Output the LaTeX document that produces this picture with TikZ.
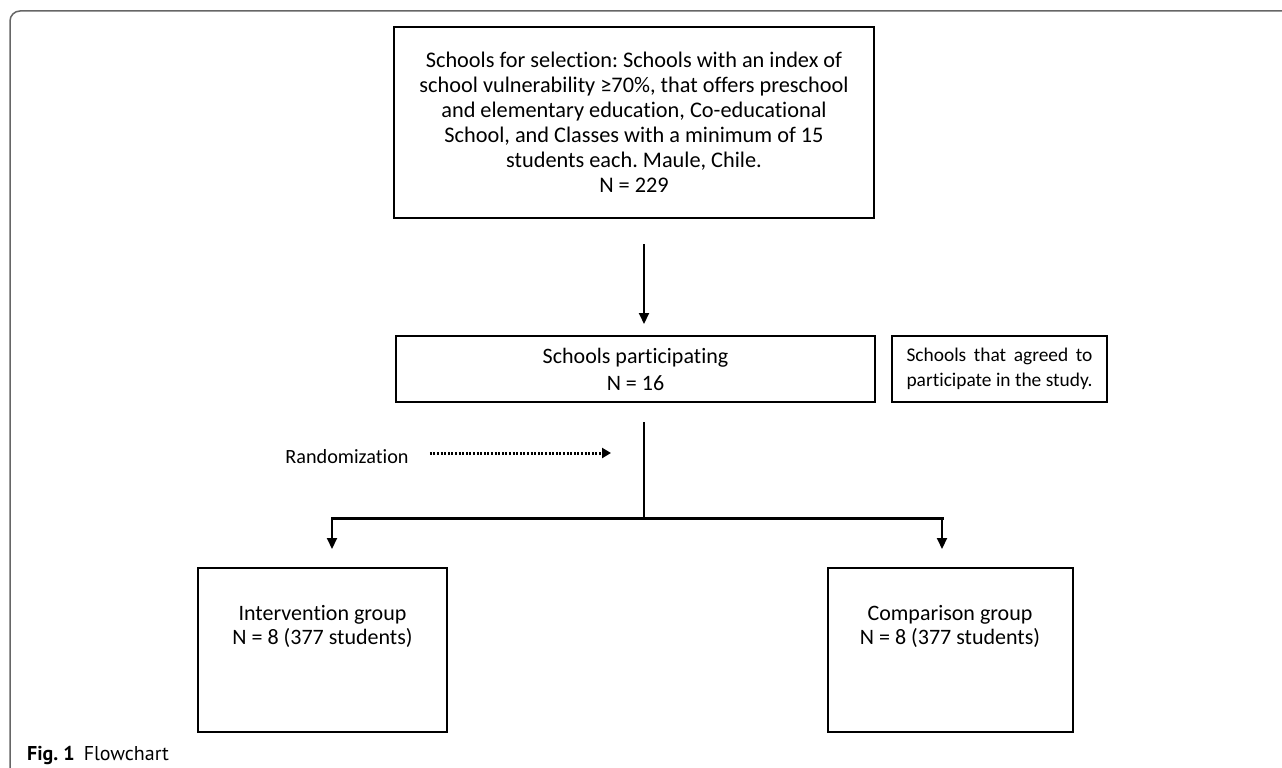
\documentclass[tikz,border=0pt]{standalone}
\usepackage{fontspec}
\setmainfont{Carlito}[Ligatures=NoCommon]
\newfontfamily\capfont{PT Sans}
\usepackage{calc}
\usetikzlibrary{arrows.meta}
\frenchspacing
\begin{document}
\begin{tikzpicture}[x=1pt,y=-1pt,
  box/.style={draw=black, line width=2pt, inner sep=0pt, align=center},
  txt/.style={align=center, inner sep=0pt},
  arr/.style={line width=2pt, -{Triangle[length=11pt,width=10pt]}},
  dotarr/.style={line width=3pt, dash pattern=on 2pt off 1.6pt, -{Triangle[length=9pt,width=10pt]}},
  frameline/.style={draw=black!60, line width=1.5pt}]
\useasboundingbox (0,0) rectangle (1282,768);
\fill[white] (0,0) rectangle (1282,768);
\draw[frameline, rounded corners=10pt] (1290,11) -- (10,11) -- (10,780);

\node[box, minimum width=480pt, minimum height=191pt, font=\fontsize{22.3}{25}\selectfont] (top) at (634,122.5)
  {Schools for selection: Schools with an index of\\school vulnerability ≥70\%, that offers preschool\\and elementary education, Co-educational\\School, and Classes with a minimum of 15\\students each. Maule, Chile.\\N = 229};

\node[box, minimum width=479pt, minimum height=66pt, font=\fontsize{22}{27}\selectfont] (mid) at (635.5,369)
  {Schools participating\\N = 16};

\node[box, minimum width=215pt, minimum height=66pt, font=\fontsize{19.4}{25}\selectfont] (note) at (999.5,369)
  {\makebox[\widthof{participate in the study.}][s]{Schools that agreed to}\\participate in the study.};

\node[box, minimum width=249pt, minimum height=164pt] (int) at (322.5,650) {};
\node[txt, font=\fontsize{22}{24}\selectfont] (intt) at (322.5,626.5) {Intervention group\\N = 8 (377 students)};

\node[box, minimum width=245pt, minimum height=164pt] (cmp) at (950.5,650) {};
\node[txt, font=\fontsize{22}{24}\selectfont] (cmpt) at (950,626.5) {Comparison group\\N = 8 (377 students)};

\node[txt, font=\fontsize{20.2}{24}\selectfont] (rand) at (347,457) {Randomization};

\coordinate (split) at (644,518);
\coordinate (bl) at (332,518);
\coordinate (br) at (942,518);
\coordinate (re) at (611,453);

\draw[arr, shorten <=25pt, shorten >=11pt] (top.south -| split) -- (mid.north -| split);
\draw[line width=2pt, shorten <=19pt] (mid.south -| split) -- (split);
\draw[arr, shorten >=18pt] (bl) -- (int.north -| bl);
\draw[arr, shorten >=18pt] (br) -- (cmp.north -| br);
\draw[line width=3pt, line cap=rect] (bl) -- (br);
\draw[dotarr, shorten <=21pt] (rand.east |- re) -- (re);

\node[anchor=west, inner sep=0pt, font=\capfont\fontsize{20}{22}\selectfont] (cap) at (27,755)
  {\textbf{Fig. 1}\hspace{0.45em}Flowchart};
\end{tikzpicture}
\end{document}
